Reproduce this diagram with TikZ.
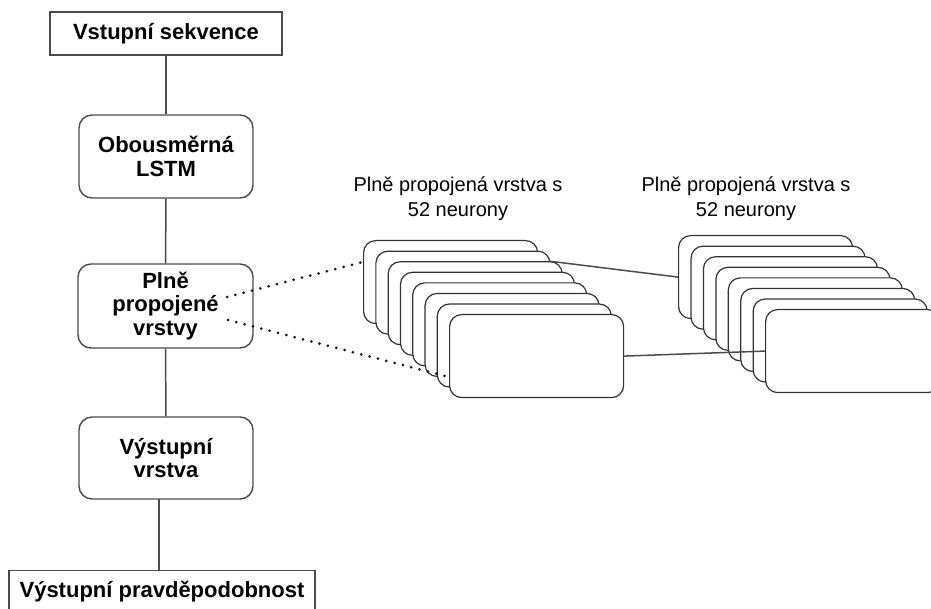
\documentclass[tikz,border=0pt]{standalone}
\usepackage{fontspec}
\setmainfont{Liberation Sans}
\usetikzlibrary{calc}
\definecolor{edge}{RGB}{75,75,75}
\tikzset{
  layerbox/.style={draw=edge, line width=1.4pt, fill=white, rounded corners=13pt,
    minimum width=174pt, minimum height=83pt, inner sep=0pt, align=center,
    font=\fontsize{22}{23.5}\selectfont\bfseries},
  termbox/.style={draw=edge, line width=1.4pt, fill=white, inner sep=0pt, align=center,
    font=\fontsize{22}{23.5}\selectfont\bfseries},
  neuron/.style={draw=black!80, line width=1.2pt, fill=white, rounded corners=12pt,
    minimum width=174pt, minimum height=83pt, inner sep=0pt},
  link/.style={draw=edge, line width=1.5pt},
  dotlink/.style={draw=black!90, line width=3pt, line cap=round, dash pattern=on 0pt off 8.6pt},
  caption/.style={align=center, font=\fontsize{20}{25}\selectfont}
}
\begin{document}
\begin{tikzpicture}[x=1pt,y=-1pt]
\useasboundingbox (0,0) rectangle (931,609);
\clip (0,0) rectangle (931,609);
% left column
\node[termbox, minimum width=232pt, minimum height=43pt] (in) at (166,33.5) {Vstupní sekvence};
\node[layerbox] (lstm) at (166,156.5) {Obousměrná\\LSTM};
\node[layerbox, minimum width=175pt, minimum height=84pt] (fc) at (165.5,306) {Plně\\propojené\\vrstvy};
\node[layerbox, minimum height=82pt] (outl) at (166,458) {Výstupní\\vrstva};
\node[termbox, anchor=north, minimum width=306pt, text height=27pt, text depth=14pt, inner ysep=0pt] (prob) at (162,570) {Výstupní pravděpodobnost};
\draw[link] (in.south) -- (lstm.north);
\draw[link] (lstm.south) -- (fc.north);
\draw[link] (fc.south) -- (outl.north);
\coordinate (o1) at (159,499);
\coordinate (o2) at (159,570);
\draw[link] (o1) -- (o2);
% stack 1
\foreach \i in {1,...,8} {
  \node[neuron, anchor=north west] (sa\i) at ({363+(\i-1)*12.29},{240+(\i-1)*10.57}) {};
}
% stack 2
\foreach \i in {1,...,8} {
  \node[neuron, anchor=north west] (sb\i) at ({678+(\i-1)*12.43},{235+(\i-1)*10.57}) {};
}
% captions
\node[caption] (c1) at (458,198.5) {Plně propojená vrstva s\\52 neurony};
\node[caption] (c2) at (746,198.5) {Plně propojená vrstva s\\52 neurony};
% connectors between stacks
\coordinate (a3) at ($(sa3.north east)+(-13.6,0)$);
\draw[link] (a3) -- (sb1.west);
\draw[link] (sa8.east) -- (sb8.west);
% dotted expansion lines
\coordinate (d1) at (227,297);
\coordinate (d2) at (228,320);
\coordinate (e1) at ($(sa1.north west)+(0,22)$);
\coordinate (e2) at ($(sa8.north west)+(0,63)$);
\draw[dotlink] (d1) -- (e1);
\draw[dotlink] (d2) -- (e2);
\end{tikzpicture}
\end{document}
